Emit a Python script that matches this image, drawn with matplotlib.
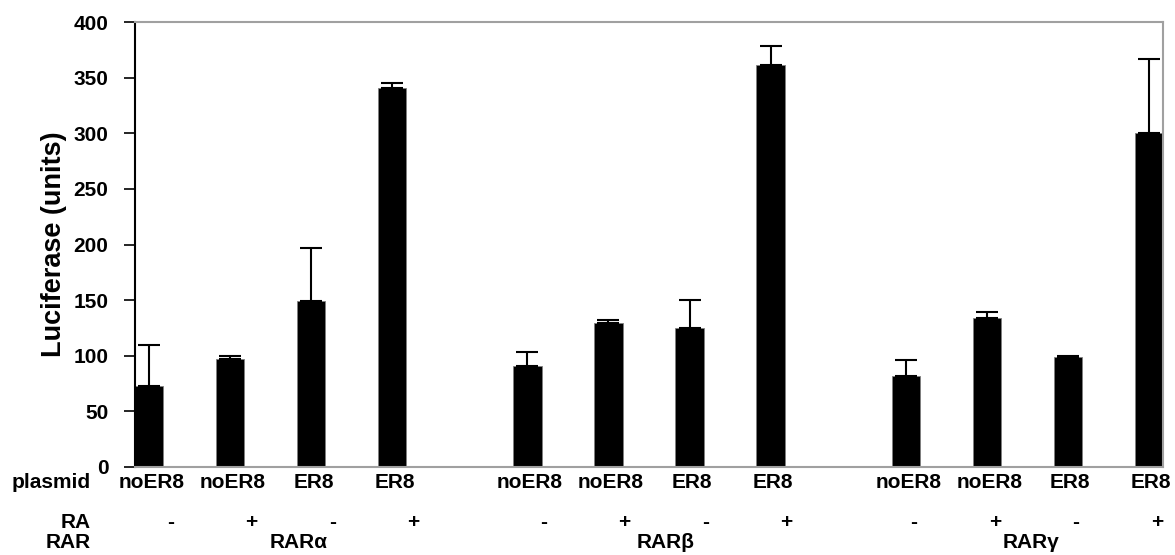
import matplotlib
matplotlib.use("Agg")
from matplotlib import pyplot as plt
import numpy as np

plt.rcParams['font.family'] = ['Liberation Sans', 'DejaVu Sans']
plt.rcParams['font.weight'] = 'bold'

# data
plasmid = ["noER8", "noER8", "ER8", "ER8"] * 3
ra = ["-", "+", "-", "+"] * 3
rar = ["RAR\u03b1", "RAR\u03b2", "RAR\u03b3"]
values = [73, 97, 149, 341,
          91, 129, 125, 361,
          82, 134, 99, 300]
err_up = [37, 3, 48, 4,
          12, 3, 25, 17,
          14, 5, 1, 67]

group_step = 4.67
pos = np.array([g * group_step + i for g in range(3) for i in range(4)])
width = 0.35
fs = 15

# label rows drift a bit per group in the original
ra_shift = [0.26, 0.2, 0.1]
rar_shift = [1.84, 1.71, 1.55]

fig = plt.figure(figsize=(11.75, 5.55), dpi=100)
ax = fig.add_axes([135 / 1175, 88 / 555, 1028 / 1175, 445 / 555])

ax.bar(pos, values, width=width, color="black", edgecolor="#808080", linewidth=0.6, zorder=2)
ax.errorbar(pos, values, yerr=[np.zeros(len(values)), err_up], fmt="none",
            ecolor="black", elinewidth=1.5, capsize=8, capthick=1.5, zorder=3)

ax.set_xlim(pos[0] - width / 2, pos[-1] + width / 2)
ax.set_ylim(0, 400)
ax.set_yticks(np.arange(0, 401, 50))
ax.tick_params(axis="y", direction="out", length=8, width=1.2, pad=11, labelsize=fs)
ax.set_xticks([])
for lab in ax.get_yticklabels():
    lab.set_fontweight("bold")

for s in ["top", "right", "bottom"]:
    ax.spines[s].set_color("#a0a0a0")
    ax.spines[s].set_linewidth(1.5)
ax.spines["left"].set_color("black")
ax.spines["left"].set_linewidth(1.5)

ax.set_ylabel("Luciferase (units)", fontsize=19.5, fontweight="bold", labelpad=5)

tr = ax.get_xaxis_transform()
row_plasmid, row_ra, row_rar = -0.035, -0.124, -0.170
label_x = pos[0] - width / 2 - 0.55

ax.text(label_x, row_plasmid, "plasmid", transform=tr, ha="right", va="center", fontsize=fs, fontweight="bold")
ax.text(label_x, row_ra, "RA", transform=tr, ha="right", va="center", fontsize=fs, fontweight="bold")
ax.text(label_x, row_rar, "RAR", transform=tr, ha="right", va="center", fontsize=fs, fontweight="bold")

for k, (x, p, r) in enumerate(zip(pos, plasmid, ra)):
    ax.text(x + 0.03, row_plasmid, p, transform=tr, ha="center", va="center", fontsize=fs, fontweight="bold")
    ax.text(x + ra_shift[k // 4], row_ra, r, transform=tr, ha="center", va="center", fontsize=fs, fontweight="bold")

for g, name in enumerate(rar):
    xc = g * group_step + rar_shift[g]
    ax.text(xc, row_rar, name, transform=tr, ha="center", va="center", fontsize=fs, fontweight="bold")

fig.savefig("out.png", dpi=100)
